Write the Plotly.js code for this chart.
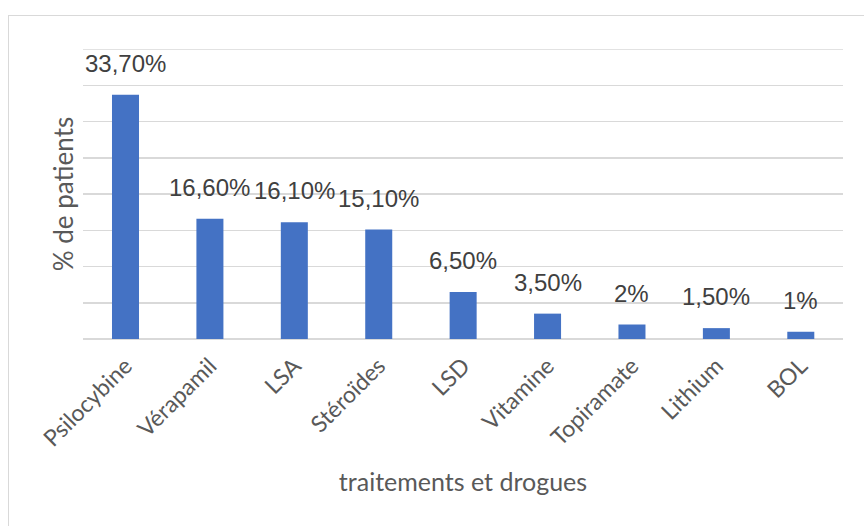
<!DOCTYPE html>
<html>
<head>
<meta charset="utf-8">
<script src="https://cdn.plot.ly/plotly-3.0.1.min.js"></script>
<style>
  html, body { margin: 0; padding: 0; background: #fff; }
  #frame { position: absolute; left: 8px; top: 15px; width: 900px; height: 600px; border: 1px solid #d9d9d9; box-sizing: border-box; }
  #chart { position: absolute; left: 0; top: 0; width: 864px; height: 526px; }
</style>
</head>
<body>
<div id="frame"></div>
<div id="chart"></div>
<script>
const categories = ["Psilocybine", "Vérapamil", "LSA", "Stéroïdes", "LSD", "Vitamine", "Topiramate", "Lithium", "BOL"];
const values = [33.7, 16.6, 16.1, 15.1, 6.5, 3.5, 2, 1.5, 1];
const valueLabels = ["33,70%", "16,60%", "16,10%", "15,10%", "6,50%", "3,50%", "2%", "1,50%", "1%"];
const xTitle = "traitements et drogues";
const yTitle = "% de patients";
const yMax = 40;

const trace = {
  type: "bar",
  x: categories,
  y: values,
  marker: { color: "#4472C4" },
  hoverinfo: "none"
};

const annotations = categories.map((c, i) => ({
  x: c, y: values[i], xref: "x", yref: "y",
  text: valueLabels[i], showarrow: false,
  yanchor: "bottom", yshift: 16,
  font: { family: "Liberation Sans, Arial, sans-serif", size: 24, color: "#404040" }
}));

const layout = {
  width: 864, height: 526,
  margin: { l: 83, r: 21, t: 49, b: 187 },
  paper_bgcolor: "rgba(0,0,0,0)",
  plot_bgcolor: "rgba(0,0,0,0)",
  bargap: 0.68,
  showlegend: false,
  xaxis: {
    tickangle: -45,
    ticklabelstandoff: 8,
    tickfont: { family: "Lato, sans-serif", size: 23, color: "#595959" },
    showgrid: false, zeroline: false, showline: false, ticks: "",
    title: { text: xTitle, font: { family: "Lato, sans-serif", size: 25, color: "#595959" }, standoff: 22 }
  },
  yaxis: {
    range: [0, yMax], tick0: 0, dtick: 5,
    showticklabels: false, ticks: "",
    gridcolor: "#d9d9d9", gridwidth: 1.5,
    zeroline: true, zerolinecolor: "#d9d9d9", zerolinewidth: 1.5,
    title: { text: yTitle, font: { family: "Lato, sans-serif", size: 26, color: "#595959" }, standoff: 0 }
  },
  shapes: [{
    type: "line", xref: "paper", x0: 0, x1: 1, yref: "y", y0: yMax, y1: yMax,
    line: { color: "#d9d9d9", width: 1.5 }, layer: "below"
  }],
  annotations: annotations
};

Plotly.newPlot("chart", [trace], layout, { displayModeBar: false, staticPlot: true });
</script>
</body>
</html>
